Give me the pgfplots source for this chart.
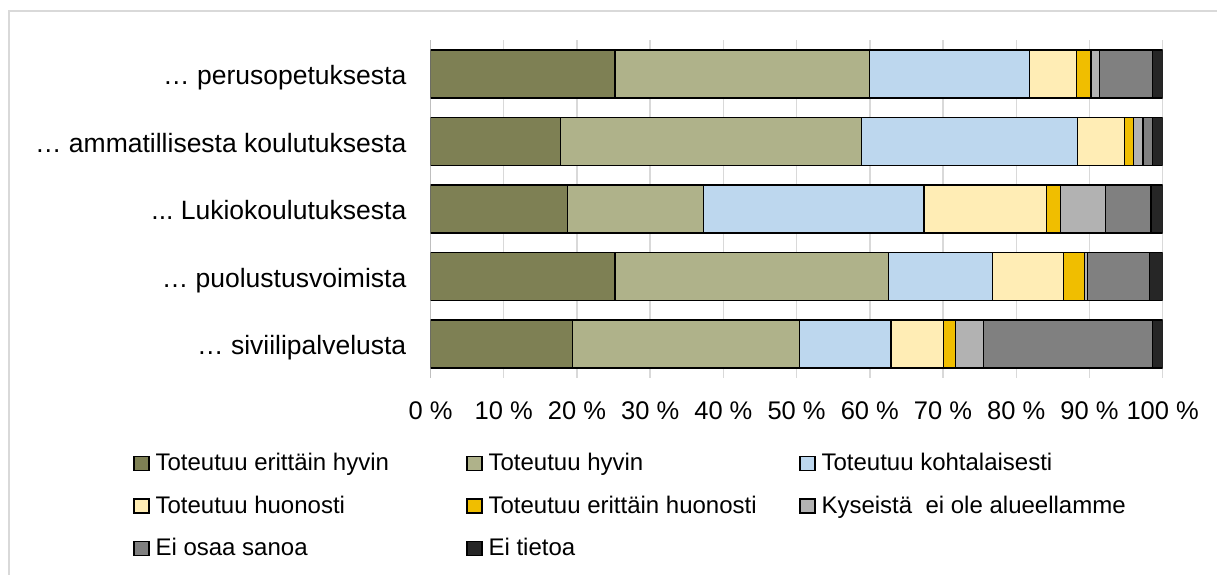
\documentclass[border=0pt]{standalone}
\usepackage{fontspec}
\setmainfont{Liberation Sans}
\usepackage{pgfplots}
\pgfplotsset{compat=1.18}
\usepackage{pgfplotstable}

\definecolor{c1}{HTML}{7E8054}
\definecolor{c2}{HTML}{AFB28A}
\definecolor{c3}{HTML}{BDD7EE}
\definecolor{c4}{HTML}{FFEDB5}
\definecolor{c5}{HTML}{F0BE00}
\definecolor{c6}{HTML}{B2B2B2}
\definecolor{c7}{HTML}{808080}
\definecolor{c8}{HTML}{262626}
\definecolor{gridgray}{HTML}{D9D9D9}
\definecolor{axisgray}{HTML}{BFBFBF}

\pgfplotstableread{
y a b c d e f g h
0 19.4 31.0 12.5 7.2 1.6 3.8 23.1 1.4
1 25.2 37.3 14.3 9.6 2.9 0.4 8.5 1.8
2 18.7 18.6 30.1 16.7 1.9 6.2 6.2 1.6
3 17.7 41.2 29.5 6.4 1.2 1.3 1.3 1.4
4 25.2 34.8 21.8 6.4 2.0 1.2 7.2 1.4
}\data

\newcommand{\legtxt}[1]{\makebox[300bp][l]{\strut #1}}
\newcommand{\threedots}{.{}.{}.}

\begin{document}
\begin{tikzpicture}[x=1bp,y=1bp]
\useasboundingbox (0,0) rectangle (1217,575);
\draw[draw=gridgray, line width=1.5bp] (9,-5) -- (9,564) -- (1222,564);
\begin{axis}[
  at={(430.5bp,197.25bp)}, anchor=south west,
  scale only axis, width=732.2bp, height=337.5bp,
  xbar stacked, bar width=0.71,
  xmin=0, xmax=100, ymin=-0.5, ymax=4.5,
  xtick={0,10,20,30,40,50,60,70,80,90,100},
  xticklabels={0 \%,10 \%,20 \%,30 \%,40 \%,50 \%,60 \%,70 \%,80 \%,90 \%,100 \%},
  ytick={0,1,2,3,4},
  yticklabels={{… siviilipalvelusta},{… puolustusvoimista},{\threedots\ Lukiokoulutuksesta},{… ammatillisesta koulutuksesta},{… perusopetuksesta}},
  axis lines*=left,
  x axis line style={draw=none},
  y axis line style={draw=axisgray, line width=1.2bp},
  major tick length=0pt,
  xmajorgrids, grid style={draw=gridgray, line width=1.5bp},
  xticklabel style={font=\fontsize{25.5bp}{30bp}\selectfont, anchor=base, inner sep=0pt, yshift=-42bp},
  yticklabel style={font=\fontsize{26.5bp}{31bp}\selectfont, anchor=base east, inner sep=0pt, xshift=-24bp, yshift=-10.7bp},
  every axis plot/.append style={draw=black, line width=1.2bp},
  legend columns=3,
  legend cell align=left,
  legend image code/.code={\draw[#1] (0bp,0bp) rectangle (15bp,14bp);},
  legend style={at={(-0.4058,-0.2097)}, anchor=north west, draw=none, fill=none,
    inner sep=0pt, outer sep=0pt,
    font=\fontsize{24bp}{28.8bp}\selectfont,
    row sep=16.7bp, column sep=0pt,
    cells={anchor=base west, inner sep=0pt},
    /tikz/every odd column/.append style={column sep=4bp},
    /tikz/every even column/.append style={column sep=8.8bp}},
]
\addplot[fill=c1] table[x=a,y=y]{\data};
\addplot[fill=c2] table[x=b,y=y]{\data};
\addplot[fill=c3] table[x=c,y=y]{\data};
\addplot[fill=c4] table[x=d,y=y]{\data};
\addplot[fill=c5] table[x=e,y=y]{\data};
\addplot[fill=c6] table[x=f,y=y]{\data};
\addplot[fill=c7] table[x=g,y=y]{\data};
\addplot[fill=c8] table[x=h,y=y]{\data};
\legend{\legtxt{Toteutuu erittäin hyvin},\legtxt{Toteutuu hyvin},\legtxt{Toteutuu kohtalaisesti},\legtxt{Toteutuu huonosti},\legtxt{Toteutuu erittäin huonosti},\legtxt{Kyseistä\ \ ei ole alueellamme},\legtxt{Ei osaa sanoa},\legtxt{Ei tietoa}}
\end{axis}
\end{tikzpicture}
\end{document}
